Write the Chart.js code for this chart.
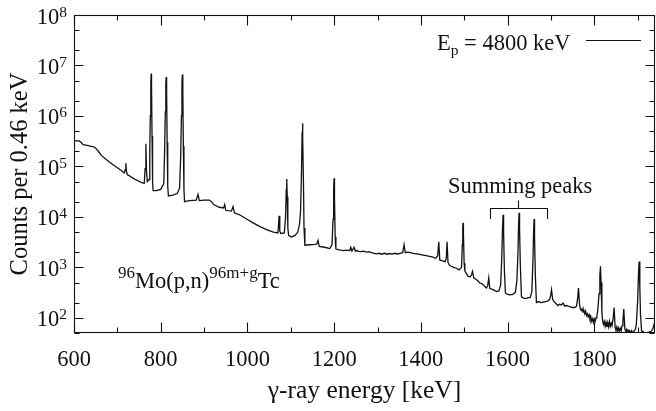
<!DOCTYPE html>
<html><head><meta charset="utf-8">
<script src="https://cdn.jsdelivr.net/npm/chart.js@4/dist/chart.umd.min.js"></script>
<style>html,body{margin:0;padding:0;background:#fff}#wrap{width:656px;height:411px;position:relative}</style>
</head><body><div id="wrap"><canvas id="c" width="656" height="411"></canvas></div>
<script>
// ---- spectrum: [energy keV, counts] ----
const spectrum = [
[600,3.2e5],[612,3.2e5],[616,3.0e5],[621,2.7e5],[630,2.6e5],[640,2.5e5],[648,2.4e5],[652,2.2e5],[657,1.95e5],[663,1.65e5],[675,1.35e5],[690,1.08e5],[705,8.8e4],[716,7.4e4],[718,8.5e4],[719.5,1.15e5],[721,8.0e4],[723,6.9e4],[740,5.6e4],[755,4.8e4],[762,4.6e4],[764,9.0e4],[765.8,2.8e5],[767.2,8.0e4],[769,5.0e4],
[773,5.5e4],[774.8,2.0e5],[776,1.0e6],[777.2,4.5e6],[778,6.9e6],[778.8,4.0e6],[780,4.0e5],[781.2,5.0e4],[782.5,3.3e4],[790,3.3e4],[800,3.5e4],[807,4.5e4],[809,2.0e5],[810.6,1.2e6],[811.8,4.5e6],[812.7,5.9e6],[813.6,3.0e6],[814.8,3.0e5],[816.2,4.0e4],[817.8,2.6e4],[828,2.7e4],[838,2.9e4],[843.5,3.7e4],[846,1.5e5],[847.8,1.0e6],[849,4.5e6],[850,6.6e6],[851,3.0e6],[852.2,2.5e5],[853.6,3.5e4],[855,2.0e4],
[866,2.1e4],[882,2.15e4],[886,2.8e4],[889,2.1e4],[900,2.15e4],[912,2.15e4],[917,2.0e4],[922,1.75e4],[935,1.55e4],[945,1.5e4],[947.6,1.75e4],[950,1.35e4],[963,1.3e4],[966.8,1.6e4],[970,1.2e4],[982,1.1e4],[997,9.2e3],[1013,7.6e3],[1028,6.5e3],[1044,5.6e3],[1060,5.0e3],[1070,4.8e3],
[1071.6,6.5e3],[1073,1.05e4],[1074.6,5.2e3],[1077,4.7e3],[1085,4.8e3],[1088,1.0e4],[1089.6,3.5e4],[1090.7,5.6e4],[1091.8,2.5e4],[1093.2,6.0e3],[1095,4.3e3],[1101,4.0e3],[1110,4.3e3],[1116,5.0e3],[1120,7.0e3],[1122.5,1.3e4],[1124.5,6.0e4],[1126,4.0e5],[1126.9,7.2e5],[1128,3.5e5],[1129.2,5.0e4],[1130.5,6.0e3],[1132.5,2.75e3],[1143,2.8e3],[1155,2.85e3],[1160,2.9e3],[1162.9,3.4e3],[1165.5,2.6e3],[1178,2.5e3],[1190,2.35e3],[1195,2.8e3],[1197.5,9.0e3],[1198.8,3.5e4],[1199.8,5.8e4],[1200.8,2.5e4],[1202.3,4.0e3],[1204,2.3e3],
[1215,2.2e3],[1222,2.15e3],[1228,2.2e3],[1236,2.15e3],[1238.3,2.5e3],[1241,2.1e3],[1246,2.5e3],[1249,2.1e3],[1253,2.15e3],[1256,2.08e3],[1262,2.05e3],[1268,2.1e3],[1274,2.0e3],[1280,2.05e3],[1286,1.95e3],[1292,1.9e3],[1298,1.85e3],[1304,1.9e3],[1310,1.82e3],[1316,1.9e3],[1322,1.82e3],[1328,1.88e3],[1334,1.83e3],[1340,1.9e3],[1346,1.84e3],[1352,1.9e3],[1358,1.95e3],[1361.3,2.8e3],[1364,1.95e3],[1370,2.0e3],[1376,1.95e3],[1382,1.9e3],[1390,1.85e3],[1398,1.8e3],[1405,1.75e3],[1412,1.7e3],[1420,1.65e3],[1428,1.6e3],[1434,1.5e3],
[1438.8,1.7e3],[1441.3,3.2e3],[1443.6,1.4e3],[1450,1.35e3],[1456,1.3e3],[1458.6,1.5e3],[1460.4,3.2e3],[1462.6,1.25e3],[1466,1.1e3],[1470,1.05e3],[1476,1.0e3],[1482,9.6e2],[1488,8.9e2],[1493.8,1.0e3],[1495.6,2.8e3],[1496.6,6.0e3],[1497.3,7.6e3],[1498.2,4.5e3],[1499.8,1.2e3],[1501.5,8.5e2],[1505,7.5e2],[1509,6.6e2],[1514,6.5e2],[1517,7.2e2],[1519,8.3e2],[1522,6.2e2],[1527,5.8e2],[1531,5.4e2],[1536,4.9e2],[1541,4.7e2],[1546,4.3e2],[1551,3.9e2],[1554,4.3e2],[1556.6,6.2e2],[1559,3.8e2],
[1564,3.7e2],[1570,3.5e2],[1575,3.3e2],[1580,3.4e2],[1584,4.5e2],[1586.5,1.5e3],[1588.4,6.0e3],[1589.6,1.1e4],[1590.8,5.0e3],[1592.6,9.0e2],[1595,3.1e2],[1600,2.9e2],[1606,2.85e2],[1612,2.9e2],[1618,3.2e2],[1621.5,5.5e2],[1624,2.0e3],[1625.4,7.0e3],[1626.5,1.2e4],[1627.6,6.0e3],[1629.4,1.1e3],[1632,2.6e2],[1637,2.45e2],[1642,2.4e2],[1647,2.5e2],[1652,2.5e2],[1656,3.3e2],[1658.6,1.4e3],[1660,5.0e3],[1661.1,9.1e3],[1662.2,4.0e3],[1664,7.0e2],[1666.5,2.0e2],[1672,2.1e2],[1677,2.0e2],[1682,2.05e2],[1687,2.1e2],[1692,2.15e2],[1697,2.3e2],[1699.5,2.8e2],
[1701.3,3.6e2],[1704,2.3e2],[1708,2.05e2],[1712,1.9e2],[1716,1.75e2],[1720,1.85e2],[1724,1.8e2],[1728,1.95e2],[1732,1.7e2],[1736,1.75e2],[1740,1.7e2],[1745,1.65e2],[1750,1.6e2],[1755,1.6e2],[1759,1.7e2],[1761.5,2.4e2],[1763.6,3.9e2],[1766,1.8e2],[1768,1.5e2],[1770,1.4e2],[1772,1.5e2],[1774,1.3e2],[1776,1.4e2],[1778,1.2e2],[1780,1.35e2],[1782,1.1e2],[1784,1.2e2],[1786,1.05e2],[1788,1.15e2],[1790,9.5e1],[1792,1.05e2],[1794,8.5e1],[1796,9.5e1],[1798,8.0e1],[1800,9.5e1],[1802,8.5e1],[1804,1.0e2],[1806,1.1e2],[1808,1.4e2],
[1811,3.0e2],[1812.8,7.0e2],[1814.3,1.05e3],[1815.6,5.0e2],[1817.5,1.3e2],[1819,9.0e1],[1821,7.5e1],[1823,8.5e1],[1825,6.8e1],[1827,8.2e1],[1829,6.5e1],[1831,8.0e1],[1833,6.6e1],[1835,8.5e1],[1837,6.8e1],[1839,7.8e1],[1841,7.0e1],[1843.5,1.0e2],[1845.7,1.6e2],[1848,6.5e1],[1850,5.8e1],[1852,6.6e1],[1854,5.5e1],[1856,6.3e1],[1858,5.4e1],[1860,6.2e1],[1862,5.6e1],[1864,7.0e1],[1866,8.5e1],[1868,1.5e2],[1870.5,6.0e1],[1873,5.3e1],[1875,5.9e1],[1877,5.2e1],[1880,5.7e1],[1883,5.1e1],[1886,5.6e1],[1889,5.0e1],[1892,5.5e1],[1895,6.0e1],[1897,7.5e1],[1900,2.2e2],[1901.8,7.0e2],[1903.3,1.3e3],[1905,4.0e2],[1906.5,1.2e2],[1909,5.5e1],[1914,5.2e1],[1920,5.0e1],[1926,5.2e1],[1931,5.4e1],[1935,6.0e1],[1938,7.5e1],[1940,8.5e1]
];
const xMajorTicks = [600,800,1000,1200,1400,1600,1800];
const xMinorTicks = [700,900,1100,1300,1500,1700,1900];
const yMajorExponents = [2,3,4,5,6,7,8];
const yMinorTicks = [50,200,500,2000,5000,2e4,5e4,2e5,5e5,2e6,5e6,2e7,5e7];
const xRange = [600,1940];
const yRange = [50,1e8];
const xTitle = 'γ-ray energy [keV]';
const yTitle = 'Counts per 0.46 keV';
const legendText = ['E','p',' = 4800 keV'];
const reactionText = ['96','Mo(p,n)','96m+g','Tc'];
const summingLabel = 'Summing peaks';
const summingBracketKeV = [1559,1625,1690];
const summingBracketCounts = [9.1e3,1.5e4,2.1e4];
const summingLabelPos = [1629,3.0e4];

const FONT = '"Liberation Serif","Times New Roman","DejaVu Serif",serif';
function font(sz){return sz+'px '+FONT;}

const deco = {
  id:'deco',
  afterDraw(chart){
    const ctx = chart.ctx, a = chart.chartArea;
    const xs = chart.scales.x, ys = chart.scales.y;
    ctx.save();
    ctx.strokeStyle = '#111';
    ctx.fillStyle = '#111';
    ctx.lineWidth = 1.1;
    ctx.strokeRect(a.left+0.5, a.top+0.5, a.right-a.left-1, a.bottom-a.top-1);
    ctx.beginPath();
    const L = a.left+0.5, R = a.right-0.5, T = a.top+0.5, B = a.bottom-0.5;
    xMajorTicks.forEach(v=>{const p=Math.round(xs.getPixelForValue(v))+0.5;
      ctx.moveTo(p,B);ctx.lineTo(p,B-10);ctx.moveTo(p,T);ctx.lineTo(p,T+10);});
    xMinorTicks.forEach(v=>{const p=Math.round(xs.getPixelForValue(v))+0.5;
      ctx.moveTo(p,B);ctx.lineTo(p,B-5);ctx.moveTo(p,T);ctx.lineTo(p,T+5);});
    yMajorExponents.forEach(e=>{const p=Math.round(ys.getPixelForValue(Math.pow(10,e)))+0.5;
      ctx.moveTo(L,p);ctx.lineTo(L+9,p);ctx.moveTo(R,p);ctx.lineTo(R-9,p);});
    yMinorTicks.forEach(v=>{const p=Math.round(ys.getPixelForValue(v))+0.5;
      ctx.moveTo(L,p);ctx.lineTo(L+5,p);ctx.moveTo(R,p);ctx.lineTo(R-5,p);});
    ctx.stroke();

    ctx.font = font(22.5);
    ctx.textAlign = 'center';
    ctx.textBaseline = 'alphabetic';
    xMajorTicks.forEach(v=>{ctx.fillText(String(v), xs.getPixelForValue(v), 366);});

    yMajorExponents.forEach(e=>{
      const p = ys.getPixelForValue(Math.pow(10,e));
      ctx.font = font(15.5);
      const we = ctx.measureText(String(e)).width;
      ctx.textAlign = 'left';
      const right = a.left - 7;
      ctx.fillText(String(e), right-we, p+1.5);
      ctx.font = font(22.5);
      const wb = ctx.measureText('10').width;
      ctx.fillText('10', right-we-wb, p+8.5);
    });

    ctx.textAlign = 'center';
    ctx.font = font(25.5);
    ctx.fillText(xTitle, (a.left+a.right)/2, 398);
    ctx.font = font(24.5);
    ctx.save();
    ctx.translate(27, (a.top+a.bottom)/2);
    ctx.rotate(-Math.PI/2);
    ctx.fillText(yTitle, 0, 0);
    ctx.restore();

    ctx.textAlign = 'left';
    let x = 437;
    ctx.font = font(22.5); ctx.fillText(legendText[0], x, 50); x += ctx.measureText(legendText[0]).width;
    ctx.font = font(15.5); ctx.fillText(legendText[1], x, 55); x += ctx.measureText(legendText[1]).width;
    ctx.font = font(22.5); ctx.fillText(legendText[2], x, 50);
    ctx.beginPath(); ctx.lineWidth = 1.2; ctx.moveTo(586, 40.5); ctx.lineTo(641, 40.5); ctx.stroke();

    x = 118;
    ctx.font = font(17); ctx.fillText(reactionText[0], x, 278); x += ctx.measureText(reactionText[0]).width;
    ctx.font = font(22.5); ctx.fillText(reactionText[1], x, 288); x += ctx.measureText(reactionText[1]).width;
    ctx.font = font(17); ctx.fillText(reactionText[2], x, 278); x += ctx.measureText(reactionText[2]).width;
    ctx.font = font(22.5); ctx.fillText(reactionText[3], x, 288);

    const bx0 = Math.round(xs.getPixelForValue(summingBracketKeV[0]))+0.5;
    const bxc = Math.round(xs.getPixelForValue(summingBracketKeV[1]))+0.5;
    const bx1 = Math.round(xs.getPixelForValue(summingBracketKeV[2]))+0.5;
    const byEnd = ys.getPixelForValue(summingBracketCounts[0]);
    const byBar = Math.round(ys.getPixelForValue(summingBracketCounts[1]))+0.5;
    const byTop = ys.getPixelForValue(summingBracketCounts[2]);
    ctx.beginPath(); ctx.lineWidth = 1.1;
    ctx.moveTo(bx0, byEnd); ctx.lineTo(bx0, byBar);
    ctx.lineTo(bx1, byBar); ctx.lineTo(bx1, byEnd);
    ctx.moveTo(bxc, byBar); ctx.lineTo(bxc, byTop);
    ctx.stroke();
    ctx.font = font(22.5); ctx.textAlign = 'center';
    ctx.fillText(summingLabel, xs.getPixelForValue(summingLabelPos[0]), ys.getPixelForValue(summingLabelPos[1]));
    ctx.restore();
  }
};

new Chart(document.getElementById('c'), {
  type:'line',
  data:{datasets:[{
    data: spectrum.map(p=>({x:p[0], y:p[1]})),
    borderColor:'#111', borderWidth:1.3, pointRadius:0, tension:0, fill:false
  }]},
  options:{
    responsive:false, devicePixelRatio:1, animation:false,
    layout:{padding:{top:15,right:1,left:0,bottom:0}},
    plugins:{legend:{display:false}, tooltip:{enabled:false}},
    scales:{
      x:{type:'linear', min:xRange[0], max:xRange[1],
         grid:{display:false}, border:{display:false}, ticks:{display:false},
         afterFit(s){s.height = 78;}},
      y:{type:'logarithmic', min:yRange[0], max:yRange[1],
         grid:{display:false}, border:{display:false}, ticks:{display:false},
         afterFit(s){s.width = 74;}}
    }
  },
  plugins:[deco]
});
</script></body></html>
